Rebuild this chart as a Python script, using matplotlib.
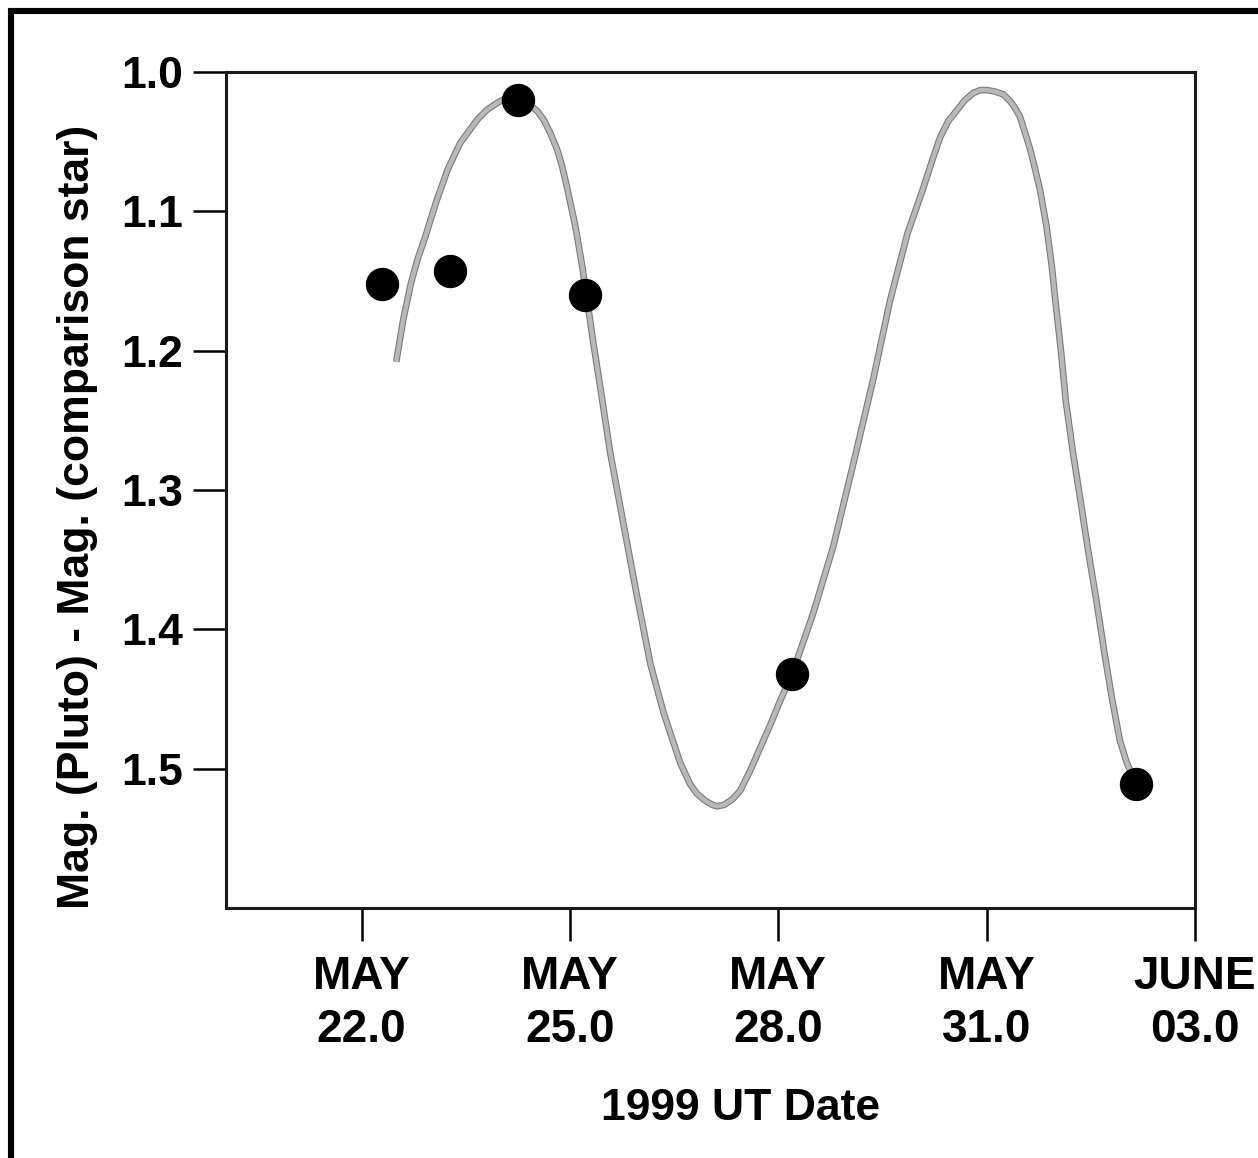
import matplotlib.pyplot as plt
import matplotlib.patheffects as pe
from matplotlib.patches import Rectangle

plt.rcParams['font.family'] = ['Liberation Sans', 'DejaVu Sans']
plt.rcParams['font.weight'] = 'bold'

# observed magnitude differences (UT day of May 1999)
obs_day = [22.29, 23.27, 24.26, 25.22, 28.20, 33.15]
obs_mag = [1.152, 1.143, 1.020, 1.160, 1.432, 1.511]

# fitted lightcurve, sampled along the drawn curve
fit_day = [22.50, 22.60, 22.71, 22.81, 22.92, 23.07, 23.24, 23.42, 23.67, 23.81,
           23.96, 24.07, 24.17, 24.29, 24.43, 24.53, 24.62, 24.72, 24.82, 24.89,
           24.96, 25.02, 25.08, 25.18, 25.27, 25.34, 25.44, 25.58, 25.77, 25.97,
           26.16, 26.35, 26.59, 26.73, 26.83, 26.95, 27.05, 27.12, 27.22, 27.34,
           27.45, 27.60, 27.74, 27.89, 28.03, 28.20, 28.50, 28.79, 29.11, 29.37,
           29.61, 29.86, 30.09, 30.22, 30.33, 30.45, 30.58, 30.69, 30.81, 30.91,
           31.01, 31.12, 31.24, 31.34, 31.41, 31.48, 31.55, 31.63, 31.70, 31.77,
           31.86, 31.94, 31.99, 32.07, 32.14, 32.24, 32.35, 32.46, 32.58, 32.69,
           32.81, 32.92, 33.02, 33.11]
fit_mag = [1.208, 1.178, 1.152, 1.134, 1.118, 1.094, 1.070, 1.051, 1.034, 1.027,
           1.022, 1.019, 1.019, 1.019, 1.024, 1.028, 1.034, 1.044, 1.056, 1.068,
           1.083, 1.097, 1.111, 1.140, 1.171, 1.195, 1.227, 1.273, 1.324, 1.377,
           1.425, 1.460, 1.496, 1.511, 1.518, 1.523, 1.526, 1.527, 1.526, 1.522,
           1.516, 1.501, 1.485, 1.468, 1.451, 1.432, 1.389, 1.341, 1.275, 1.220,
           1.164, 1.116, 1.083, 1.063, 1.047, 1.035, 1.027, 1.020, 1.015, 1.013,
           1.013, 1.014, 1.016, 1.021, 1.026, 1.032, 1.043, 1.056, 1.070, 1.085,
           1.110, 1.140, 1.164, 1.200, 1.236, 1.272, 1.307, 1.343, 1.379, 1.415,
           1.451, 1.480, 1.496, 1.506]

tick_days = [22.0, 25.0, 28.0, 31.0, 34.0]
tick_labels = ['MAY\n22.0', 'MAY\n25.0', 'MAY\n28.0', 'MAY\n31.0', 'JUNE\n03.0']
mag_ticks = [1.0, 1.1, 1.2, 1.3, 1.4, 1.5]

fig = plt.figure(figsize=(12.58, 11.58), dpi=100)
ax = fig.add_axes([0.1797, 0.2159, 0.7702, 0.7219])

ax.plot(fit_day, fit_mag, color='#b8b8b8', lw=3.2, solid_joinstyle='round',
        solid_capstyle='butt',
        path_effects=[pe.Stroke(linewidth=4.8, foreground='#7a7a7a'), pe.Normal()])
ax.plot(obs_day, obs_mag, 'o', color='black', markersize=23, zorder=3)

ax.set_xlim(20.05, 34.0)
ax.set_ylim(1.6, 1.0)

ax.set_xticks(tick_days)
ax.set_xticklabels(tick_labels, fontsize=33, linespacing=1.25)
ax.set_yticks(mag_ticks)
ax.set_yticklabels([f'{m:.1f}' for m in mag_ticks], fontsize=32)
ax.tick_params(axis='x', length=24, width=1.8, pad=10, direction='out')
ax.tick_params(axis='y', length=24, width=1.8, pad=7, direction='out')

for s in ax.spines.values():
    s.set_linewidth(2.2)
    s.set_color('#1a1a1a')

fig.text(741 / 1258, 1 - 1108 / 1158, '1999 UT Date', fontsize=32,
         fontweight='bold', ha='center', va='center')
fig.text(78 / 1258, 1 - 517 / 1158, 'Mag. (Pluto) - Mag. (comparison star)',
         fontsize=32, fontweight='bold', rotation=90, ha='center', va='center')

# outer frame, only its top and left edges fall inside the canvas
fig.add_artist(Rectangle((11 / 1258, -0.1), 1.2, 1.1 - 11 / 1158,
                         transform=fig.transFigure, fill=False,
                         edgecolor='black', lw=4.4))

fig.savefig('out.png', dpi=100)
